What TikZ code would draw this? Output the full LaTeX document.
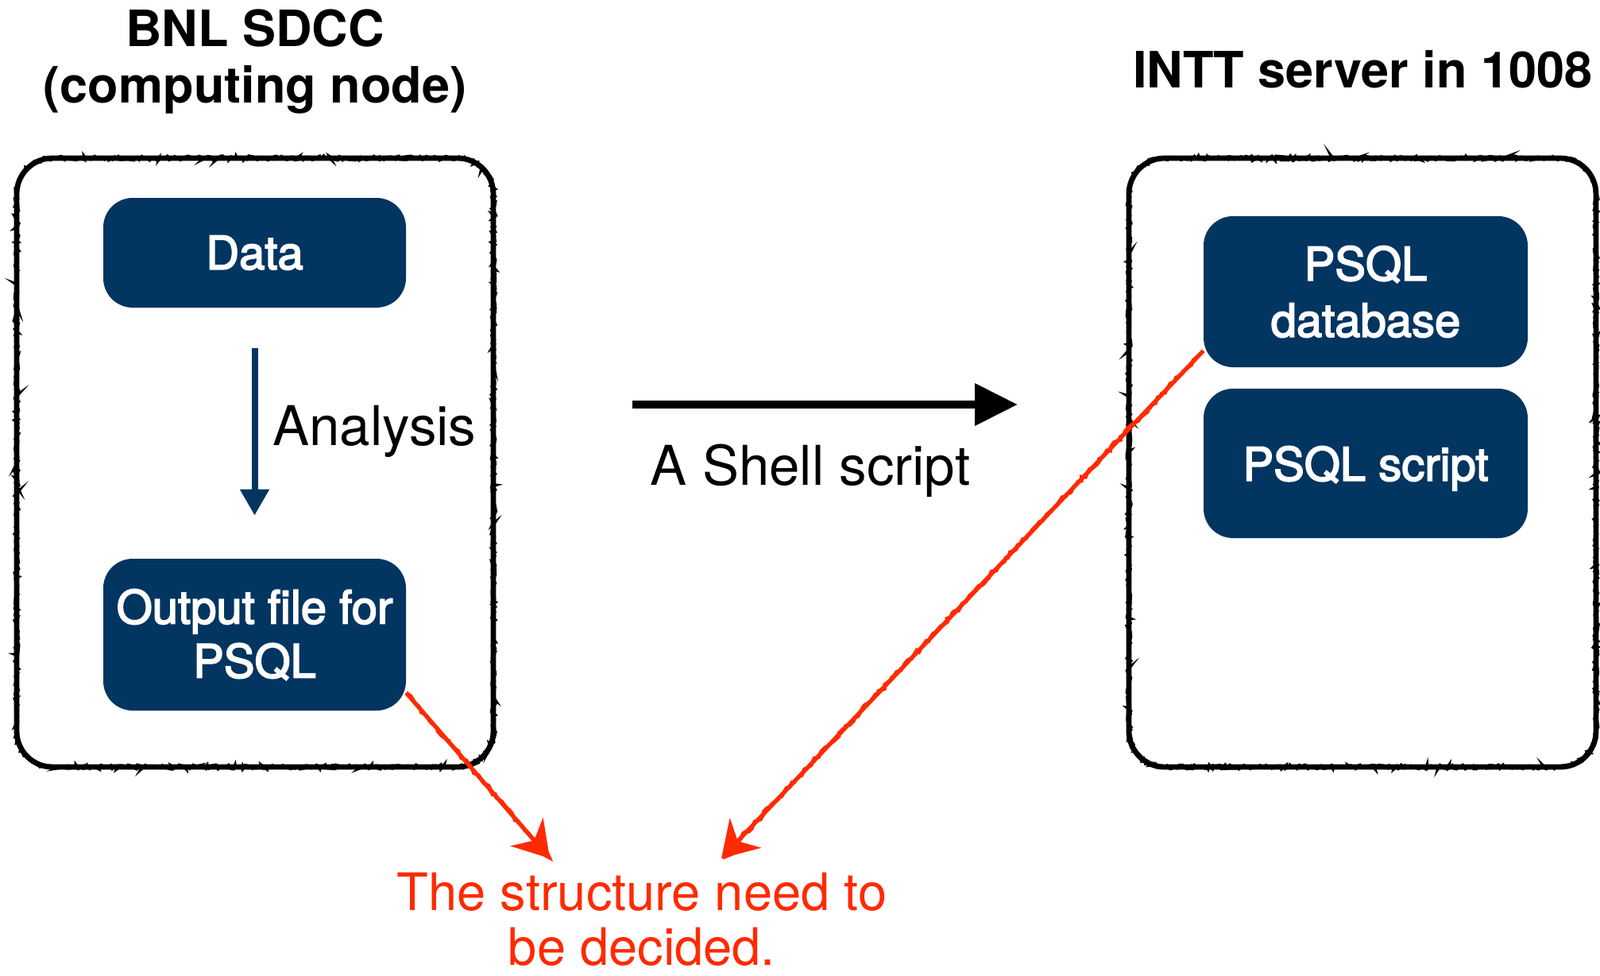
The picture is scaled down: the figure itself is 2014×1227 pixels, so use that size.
\documentclass[tikz,border=0pt]{standalone}
\usepackage{fontspec}
\setmainfont{TeX Gyre Heros}
\newfontfamily\boxfont[FakeBold=3]{TeX Gyre Heros}
\usetikzlibrary{arrows.meta,decorations.pathmorphing}
\definecolor{boxnavy}{HTML}{033561}
\definecolor{alertred}{HTML}{FF2A00}
\tikzset{
  containerbase/.style={draw=black, line width=3.4pt},
  containerrough/.style={draw=black, line width=2pt,
    decorate, decoration={random steps, segment length=1.3pt, amplitude=1.2pt}},
  bluebox/.style={fill=boxnavy, text=white, rounded corners=18.5pt,
    font=\boxfont\fontsize{29}{34}\selectfont, align=center, inner sep=0pt},
  titletext/.style={font=\fontsize{31.5}{35.5}\selectfont\bfseries, align=center, inner sep=0pt},
  plaintext/.style={font=\fontsize{34.5}{40}\selectfont, inner sep=0pt},
  alerttext/.style={font=\fontsize{32.5}{34.5}\selectfont, text=alertred, align=center, inner sep=0pt, text depth=0pt},
  navyarrow/.style={draw=boxnavy, line width=4pt, -{Triangle[length=16.5pt,width=17.5pt]}},
  shellarrow/.style={draw=black, line width=5pt, -{Triangle[length=27pt,width=25.5pt]}},
  alertbase/.style={draw=alertred, line width=2.6pt, -{Stealth[length=22pt,width=27pt,inset=7pt]}},
  alertrough/.style={draw=alertred, line width=2.2pt,
    decorate, decoration={random steps, segment length=2.2pt, amplitude=1.1pt}},
}
\newcommand{\roundbox}[6]{% style, x1, y1, x2, y2, r
  \draw[#1] (#2,#3+#6) -- (#2,#5-#6) arc[start angle=180, end angle=90, radius=#6]
    -- (#4-#6,#5) arc[start angle=90, end angle=0, radius=#6]
    -- (#4,#3+#6) arc[start angle=0, end angle=-90, radius=#6]
    -- (#2+#6,#3) arc[start angle=270, end angle=180, radius=#6] -- cycle;}
\begin{document}
\begin{tikzpicture}[x=0.5pt,y=-0.5pt]
\useasboundingbox (0,0) rectangle (2014,1227);

% containers
\roundbox{containerbase}{21}{199}{621}{965}{45}
\roundbox{containerrough}{21}{199}{621}{965}{45}
\roundbox{containerbase}{1421}{199}{2009}{965}{45}
\roundbox{containerrough}{1421}{199}{2009}{965}{45}

% titles
\node[titletext, anchor=north] (lefttitle) at (321,11) {BNL SDCC\\(computing node)};
\node[titletext, anchor=base west] (righttitle) at (1426,110) {INTT server in 1008};

% left boxes
\node[bluebox, minimum width=190.5pt, minimum height=69pt] (data) at (320.5,318) {Data};
\node[bluebox, minimum width=190.5pt, minimum height=95.5pt] (output) at (320.5,798.5) {Output file for\\PSQL};

% right boxes
\node[bluebox, minimum width=204pt, minimum height=95pt, font=\boxfont\fontsize{29}{35.5}\selectfont] (psqldb) at (1719,367) {PSQL\\database};
\node[bluebox, minimum width=204pt, minimum height=94pt, text depth=0pt] (psqlscript) at (1719,583) {PSQL script};

% analysis arrow
\draw[navyarrow, shorten <=25.5pt, shorten >=27pt] (data) -- (output);
\node[plaintext, anchor=base west] (analysis) at (343,560) {Analysis};

% shell arrow
\coordinate (shellstart) at (796,509);
\coordinate (shellend) at (1281,509);
\draw[shellarrow] (shellstart) -- (shellend);
\node[plaintext, anchor=base] (shelllabel) at (1020,610) {A Shell script};

% alert text and arrows
\node[alerttext, anchor=base] (alert) at (808,1214) {The structure need to\\be decided.};
\coordinate (tipone) at (692,1080);
\coordinate (tiptwo) at (908,1080);
\draw[alertbase] (output.339) -- (tipone);
\draw[alertrough, shorten >=8pt] (output.339) -- (tipone);
\draw[alertbase] (psqldb.200) -- (tiptwo);
\draw[alertrough, shorten >=8pt] (psqldb.200) -- (tiptwo);
\end{tikzpicture}
\end{document}
